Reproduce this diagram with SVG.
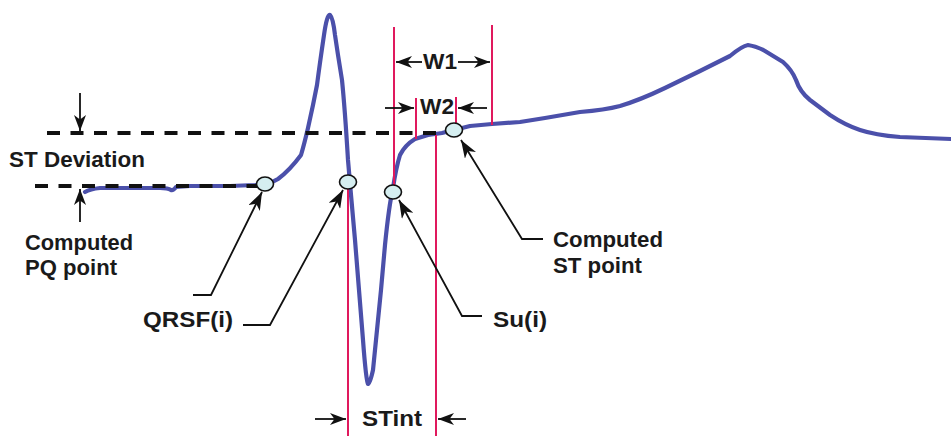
<svg xmlns="http://www.w3.org/2000/svg" width="951" height="436" viewBox="0 0 951 436">
<style>
.ecg{fill:none;stroke:#4b50aa;stroke-width:4.2;stroke-linejoin:round;stroke-linecap:round}
.dash{fill:none;stroke:#111;stroke-width:4;stroke-dasharray:13 10.5}
.pink{fill:none;stroke:#e0195d;stroke-width:2}
.pt{fill:#d5eef0;stroke:#111;stroke-width:1.6}
.ld{fill:none;stroke:#111;stroke-width:1.8}
.lbl{font-family:"Liberation Sans",Arial,sans-serif;font-weight:bold;font-size:22px;fill:#1a1a1a}
</style>
<defs>
<marker id="ah" viewBox="0 0 16 12" refX="16" refY="6" markerWidth="16" markerHeight="12" markerUnits="userSpaceOnUse" orient="auto">
<path d="M0,0 L16,6 L0,12 L4.5,6 z" fill="#111"/>
</marker>
<marker id="ahL" viewBox="0 0 18 13" refX="18" refY="6.5" markerWidth="18" markerHeight="13" markerUnits="userSpaceOnUse" orient="auto">
<path d="M0,0 L18,6.5 L0,13 L5,6.5 z" fill="#111"/>
</marker>
</defs>

<g id="ecg-trace">
<path class="ecg" d="M85,192 Q90,189 100,188 L130,188 L160,188 Q168,188 171,190 Q173,191 176,187 L190,186 L230,186 L255,185 L265,184 Q272,183 278,179 Q290,170 301,155 Q304,145 308,128 L313,105 L317,85 Q320,62 324,35 Q327,14 330,15 Q333,18 335,35 L338,55 L342,80 Q345,110 348,160 L351,195 L355,240 L359,290 L363,340 Q366,380 368,384 Q370,384 373,370 L377,330 L381,290 L385,245 Q389,205 393,188 Q396,168 400,155 Q405,145 415,139 L428,135 L442,133 L454,130 L470,126 L492,124 L520,122 L545,118 L580,112 Q605,110 620,106 Q640,100 665,88 L700,71 L730,56 Q742,46 748,45 Q756,46 765,51 L783,62 Q792,70 796,80 Q800,92 810,100 L830,115 Q845,125 860,130 Q875,135 900,137 L951,139"/>
</g>

<g id="reference-lines">
<line class="dash" x1="47" y1="133" x2="452" y2="133"/>
<line class="dash" x1="35" y1="186" x2="262" y2="186"/>
</g>

<g id="markers">
<line class="pink" x1="348" y1="184" x2="348" y2="436"/>
<line class="pink" x1="394" y1="27" x2="394" y2="186"/>
<line class="pink" x1="416" y1="98" x2="416" y2="139"/>
<line class="pink" x1="436" y1="135" x2="436" y2="436"/>
<line class="pink" x1="456" y1="97" x2="456" y2="126"/>
<line class="pink" x1="492" y1="25" x2="492" y2="125"/>
</g>

<g id="points">
<ellipse id="pq-point" class="pt" cx="265" cy="184" rx="8.5" ry="7"/>
<ellipse id="qrsf-point" class="pt" cx="348" cy="182" rx="8.5" ry="7"/>
<ellipse id="su-point" class="pt" cx="393" cy="192" rx="8.5" ry="7"/>
<ellipse id="st-point" class="pt" cx="454" cy="130" rx="8.5" ry="7"/>
</g>

<g id="connectors">
<line class="ld" x1="80" y1="93" x2="80" y2="131" marker-end="url(#ah)"/>
<line class="ld" x1="80" y1="222" x2="80" y2="189" marker-end="url(#ah)"/>
<line class="ld" x1="422" y1="62" x2="396" y2="62" marker-end="url(#ah)"/>
<line class="ld" x1="458" y1="62" x2="490" y2="62" marker-end="url(#ah)"/>
<line class="ld" x1="385" y1="108" x2="414" y2="108" marker-end="url(#ah)"/>
<line class="ld" x1="487" y1="108" x2="458" y2="108" marker-end="url(#ah)"/>
<line class="ld" x1="315" y1="419" x2="346" y2="419" marker-end="url(#ah)"/>
<line class="ld" x1="466" y1="419" x2="438" y2="419" marker-end="url(#ah)"/>
<polyline class="ld" points="193,295 211,295 262,192" marker-end="url(#ahL)"/>
<polyline class="ld" points="243,325 270,325 343,190" marker-end="url(#ahL)"/>
<polyline class="ld" points="482,316 462,316 399,200" marker-end="url(#ahL)"/>
<polyline class="ld" points="543,239 522,239 461,140" marker-end="url(#ahL)"/>
</g>

<g id="labels">
<text class="lbl" x="9" y="167" textLength="136" lengthAdjust="spacingAndGlyphs">ST Deviation</text>
<text class="lbl" x="25" y="250" textLength="108" lengthAdjust="spacingAndGlyphs">Computed</text>
<text class="lbl" x="25" y="275" textLength="92" lengthAdjust="spacingAndGlyphs">PQ point</text>
<text class="lbl" x="143" y="327" textLength="90" lengthAdjust="spacingAndGlyphs">QRSF(i)</text>
<text class="lbl" x="493" y="327" textLength="54" lengthAdjust="spacingAndGlyphs">Su(i)</text>
<text class="lbl" x="553" y="247" textLength="110" lengthAdjust="spacingAndGlyphs">Computed</text>
<text class="lbl" x="553" y="273" textLength="89" lengthAdjust="spacingAndGlyphs">ST point</text>
<text class="lbl" x="362" y="426" textLength="60" lengthAdjust="spacingAndGlyphs">STint</text>
<text class="lbl" x="423" y="69" textLength="34" lengthAdjust="spacingAndGlyphs">W1</text>
<text class="lbl" x="420" y="114" textLength="34" lengthAdjust="spacingAndGlyphs">W2</text>
</g>
</svg>
